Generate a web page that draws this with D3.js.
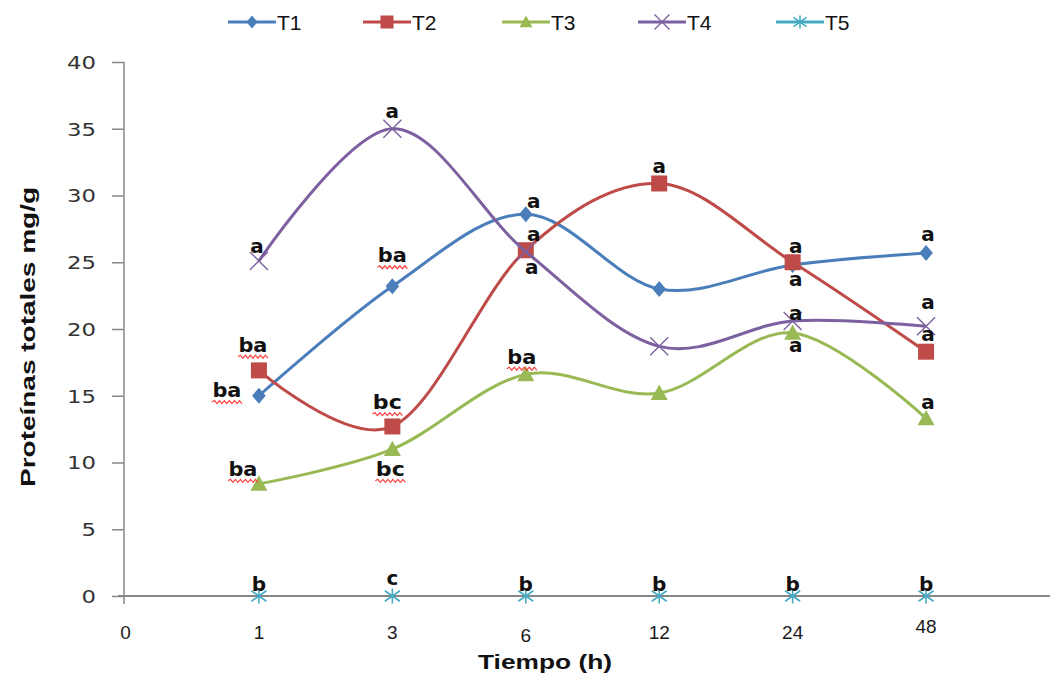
<!DOCTYPE html>
<html><head><meta charset="utf-8">
<script src="https://cdn.jsdelivr.net/npm/d3@7"></script>
<style>
body{margin:0;background:#fff;}
text{font-family:"Liberation Sans",Arial,sans-serif;}
</style></head>
<body><svg id="c" width="1050" height="676"></svg>
<script>
const categories = ["0","1","3","6","12","24","48"];
const seriesNames = ["T1","T2","T3","T4","T5"];
const T1 = [15.0, 23.2, 28.6, 23.0, 24.8, 25.7];
const T2 = [16.9, 12.7, 25.9, 30.9, 25.0, 18.3];
const T3 = [8.4, 11.0, 16.6, 15.2, 19.7, 13.3];
const T4 = [25.1, 35.0, 25.8, 18.7, 20.6, 20.2];
const T5 = [0, 0, 0, 0, 0, 0];
const yTicks = [0,5,10,15,20,25,30,35,40];
// significance letters: category index, value at the letter baseline, text
const letterCat = [1,1,1,1,1, 2,2,2,2,2, 3,3,3,3,3, 4,4, 5,5,5,5,5, 6,6,6,6,6];
const letterVal = [25.7,18.3,14.9,9.0,0.4, 35.8,25.0,14.0,9.0,0.8, 29.1,26.6,24.1,17.4,0.4, 31.7,0.4, 25.7,23.2,20.7,18.3,0.4, 26.6,21.5,19.1,14.0,0.4];
const letterTxt = ["a","ba","ba","ba","b", "a","ba","bc","bc","c", "a","a","a","ba","b", "a","b", "a","a","a","a","b", "a","a","a","a","b"];
// horizontal nudges of letters (px)
const letterDx  = [-2,-6,-32,-16,0, 0,0,-5,-2,0, 8,8,6,-4,0, 0,0, 3,3,3,3,0, 2,2,2,2,0];

const colors = ["#4A7EBB","#BE4B48","#98B954","#7D60A0","#46AAC5"];
const data = [T1,T2,T3,T4,T5];
const svg = d3.select("#c");
const x = d3.scaleLinear().domain([0,7]).range([125.5,1059.5]);
const y = d3.scaleLinear().domain([0,40]).range([596,62]);
const AX = 124;

// y axis
const yAxis = d3.axisLeft(y).tickValues(yTicks).tickSize(12).tickPadding(16);
const gy = svg.append("g").attr("transform",`translate(${AX},0)`).call(yAxis);
gy.select(".domain").attr("stroke","#878787").attr("stroke-width",1.5).attr("d","M0,62V604");
gy.selectAll(".tick line").attr("stroke","#878787").attr("stroke-width",1.5);
gy.selectAll(".tick text").attr("fill","#333")
  .style("font-family","'DejaVu Sans',Verdana,sans-serif").style("font-size","18px")
  .attr("dy","0.36em")
  .attr("textLength",d=>String(d).length*14.5).attr("lengthAdjust","spacingAndGlyphs");

// x category labels
svg.append("g").selectAll("text").data(categories).join("text")
  .attr("x",(d,i)=>x(i)).attr("y",d=> d==="48"?633:(d==="6"?642:639))
  .attr("text-anchor","middle").attr("fill","#1a1a1a").style("font-size","19px")
  .text(d=>d);

function marker(g, k, size){
  const c = colors[k];
  if(k===0){ const s=size/2; g.append("path").attr("d",`M0,${-s}L${s*0.85},0L0,${s}L${-s*0.85},0Z`).attr("fill",c); }
  else if(k===1){ g.append("rect").attr("x",-size/2).attr("y",-size/2).attr("width",size).attr("height",size).attr("fill",c); }
  else if(k===2){ const s=size/2; g.append("path").attr("d",`M0,${-s}L${s},${s*0.8}L${-s},${s*0.8}Z`).attr("fill",c); }
  else if(k===3){ const s=size/2; g.append("path").attr("d",`M${-s},${-s}L${s},${s}M${-s},${s}L${s},${-s}`).attr("stroke",c).attr("stroke-width",1.4).attr("fill","none"); }
  else { const s=size/2; g.append("path").attr("d",`M${-s},${-s*0.7}L${s},${s*0.7}M${-s},${s*0.7}L${s},${-s*0.7}M0,${-s}V${s}`).attr("stroke",c).attr("stroke-width",1.6).attr("fill","none"); }
}
const msize = [16,16,17,18,15];

const line = d3.line().x((d,i)=>x(i+1)).y(d=>y(d)).curve(d3.curveCardinal.tension(0));

data.forEach((vals,k)=>{
  const g = svg.append("g");
  g.append("path").attr("d",line(vals)).attr("fill","none").attr("stroke",colors[k]).attr("stroke-width",k===4?2:3);
  if(k===4){
    g.append("line").attr("x1",AX-6).attr("x2",1050).attr("y1",y(0)).attr("y2",y(0)).attr("stroke","#878787").attr("stroke-width",2);
  }
  vals.forEach((v,i)=>{
    const m = g.append("g").attr("transform",`translate(${x(i+1)},${y(v)})`);
    marker(m,k,msize[k]);
  });
});

// letters
const lg = svg.append("g");
letterTxt.forEach((t,j)=>{
  const tx = lg.append("text").attr("x",x(letterCat[j])+letterDx[j]).attr("y",y(letterVal[j]))
    .attr("text-anchor","middle").attr("fill","#111")
    .style("font-family","'DejaVu Sans',sans-serif").style("font-weight","bold").style("font-size","20px")
    .text(t);
  if(t.length>1){
    tx.attr("textLength",29).attr("lengthAdjust","spacingAndGlyphs");
    const bx = x(letterCat[j])+letterDx[j]-15, by = y(letterVal[j])+5;
    let p = `M${bx},${by}`; let up=true;
    for(let xx=bx+2.5; xx<=bx+30; xx+=2.5){ p += `L${xx},${by+(up?-1.5:1.5)}`; up=!up; }
    lg.append("path").attr("d",p).attr("fill","none").attr("stroke","#FF4040").attr("stroke-width",1.2);
  }
});

// legend
const legX = [228,363,502,638,776];
seriesNames.forEach((n,k)=>{
  const g = svg.append("g").attr("transform",`translate(${legX[k]},22)`);
  g.append("line").attr("x1",0).attr("x2",48).attr("stroke",colors[k]).attr("stroke-width",3);
  const m = g.append("g").attr("transform","translate(24,0)");
  marker(m,k,k===3?15:13);
  g.append("text").attr("x",49).attr("y",8).attr("fill","#111").style("font-size","21px").text(n);
});

// axis titles
svg.append("text").attr("x",545).attr("y",669).attr("text-anchor","middle")
  .style("font-weight","bold").style("font-size","20px").attr("fill","#111")
  .attr("textLength",134).attr("lengthAdjust","spacingAndGlyphs").text("Tiempo (h)");
svg.append("text").attr("transform","translate(35,337) rotate(-90)").attr("text-anchor","middle")
  .style("font-weight","bold").style("font-size","20px").attr("fill","#111")
  .attr("textLength",300).attr("lengthAdjust","spacingAndGlyphs").text("Proteínas totales mg/g");
</script></body></html>
